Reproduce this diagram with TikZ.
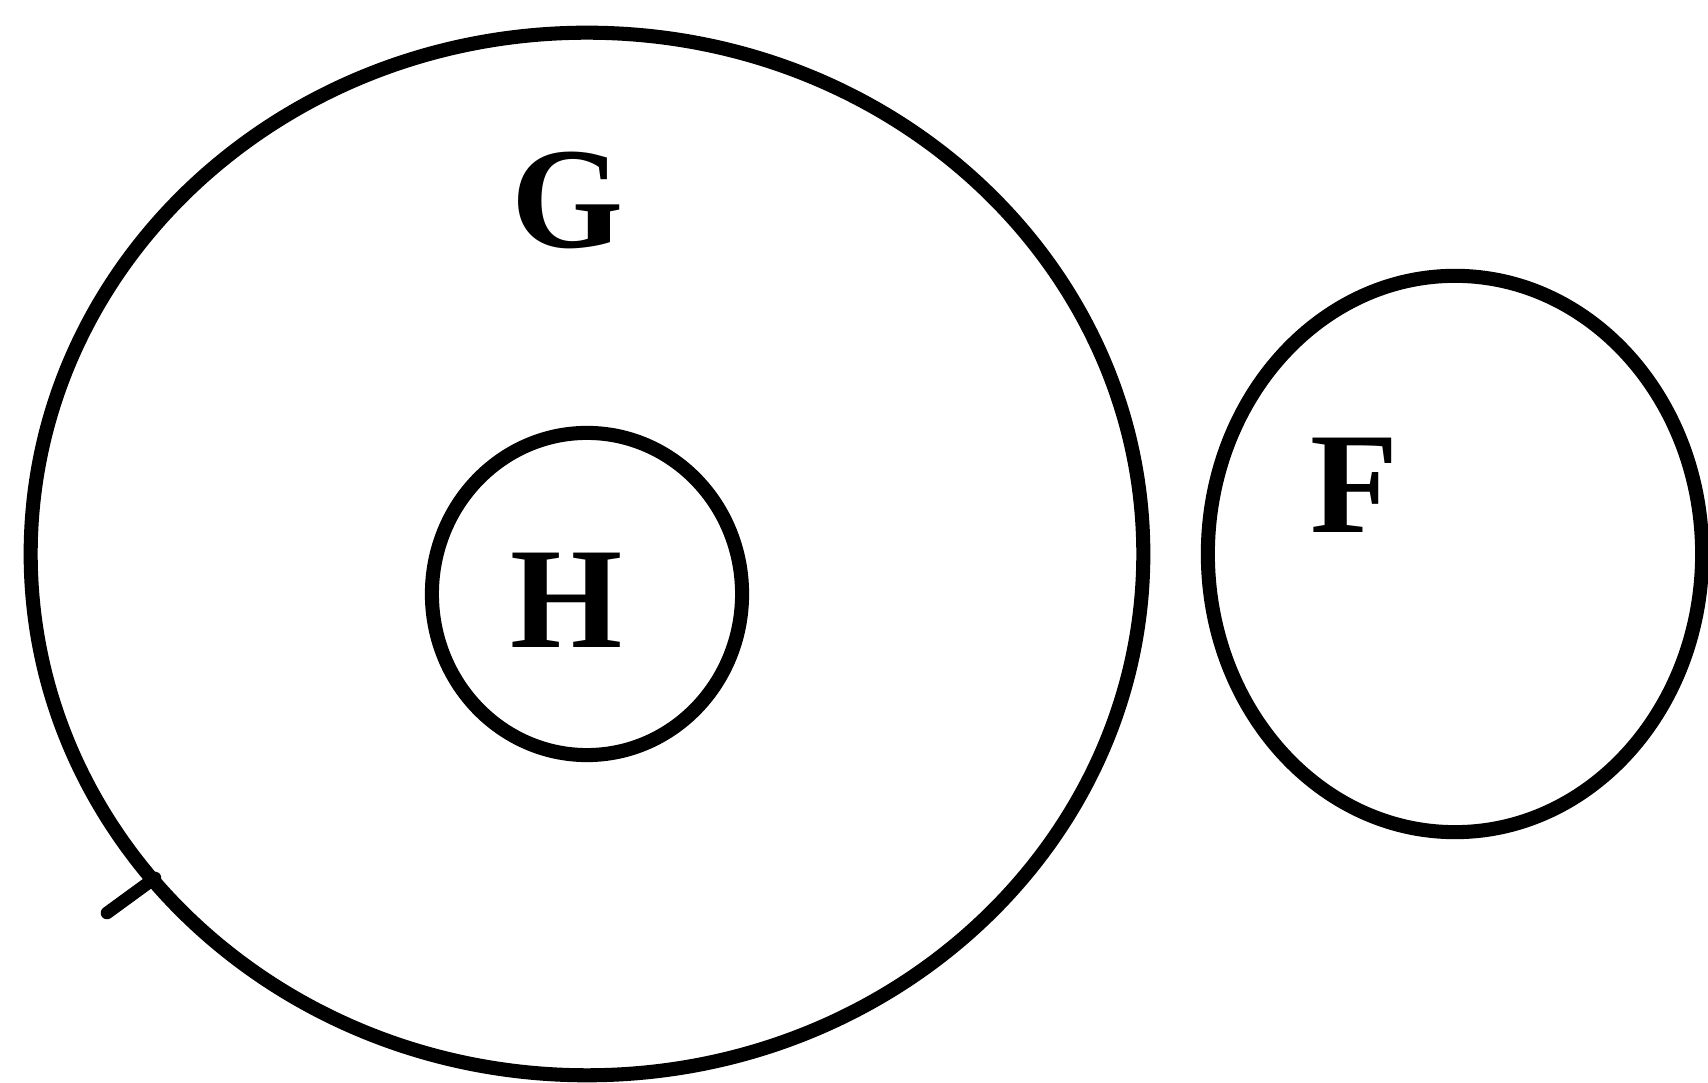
\documentclass[tikz,border=0pt]{standalone}
\usepackage{fontspec}
\setmainfont{Liberation Serif}
\usetikzlibrary{shapes.geometric}
\tikzset{
  set ring/.style={draw, ellipse, line width=4pt, inner sep=0pt},
  set label/.style={font=\fontsize{41}{41}\selectfont\bfseries, inner sep=0pt},
  set tick/.style={line width=3.6pt, line cap=round},
}

\begin{document}
\begin{tikzpicture}[x=0.01cm, y=-0.01cm]
  \useasboundingbox (0,0) rectangle (1708,1083);
  \node[set ring, minimum width=11.12cm, minimum height=10.42cm] (G) at (587,554) {};
  \node[set ring, minimum width=3.10cm, minimum height=3.22cm] (H) at (587,594) {};
  \node[set ring, minimum width=4.94cm, minimum height=5.56cm] (F) at (1455,554) {};
  \node[set label] (Glabel) at (568,200) {G};
  \node[set label] (Hlabel) at (567,600) {H};
  \node[set label] (Flabel) at (1355,485) {F};
  \coordinate (tickstart) at (155,878);
  \coordinate (tickend) at (107,913);
  \draw[set tick] (tickstart) -- (tickend);
\end{tikzpicture}
\end{document}
